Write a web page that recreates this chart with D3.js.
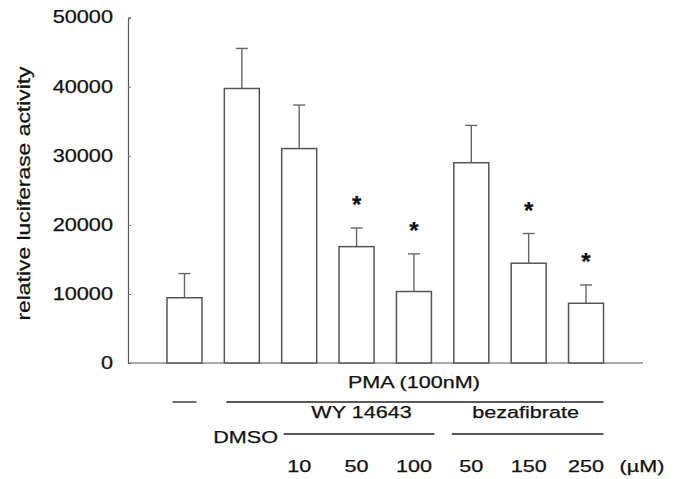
<!DOCTYPE html>
<html>
<head>
<meta charset="utf-8">
<script src="https://cdn.jsdelivr.net/npm/d3@7"></script>
<style>
  body { margin: 0; background: #fff; }
  text { font-family: "Liberation Sans", Arial, sans-serif; fill: #111; stroke: #111; stroke-width: 0.25px; }
</style>
</head>
<body>
<div id="chart"></div>
<script>
// data
var groups = ["ctrl", "DMSO", "WY10", "WY50", "WY100", "BZ50", "BZ150", "BZ250"];
var means  = [9450, 39750, 31050, 16850, 10350, 29000, 14450, 8650];
var errs   = [3500, 5800, 6300, 2700, 5450, 5400, 4300, 2650];
var stars  = [false, false, false, true, true, false, true, true];
var doseLabels = ["", "", "10", "50", "100", "50", "150", "250"];
var yTicks = [0, 10000, 20000, 30000, 40000, 50000];

var width = 676, height = 479;
var margin = {top: 17.7, left: 128, bottom: 116};

// the original lettering is wider than Liberation Sans, so stretch it a bit
function stretch(sel, k) {
  sel.each(function() {
    var w = this.getComputedTextLength();
    d3.select(this)
      .attr("textLength", w * k)
      .attr("lengthAdjust", "spacingAndGlyphs");
  });
}

var svg = d3.select("#chart")
  .append("svg")
    .attr("width", width)
    .attr("height", height);

var y = d3.scaleLinear()
  .domain([0, 50000])
  .range([363, margin.top]);

var x = d3.scaleBand()
  .domain(groups)
  .range([155.5, 615])
  .paddingInner(0.39)
  .paddingOuter(0.2);

// y axis
var yAxis = svg.append("g")
  .attr("transform", "translate(" + margin.left + ",0)")
  .call(d3.axisLeft(y).tickValues(yTicks).tickSize(-3).tickPadding(15).tickFormat(d3.format("d")));
yAxis.select(".domain").attr("stroke", "#555").attr("stroke-width", 1.2);
yAxis.selectAll(".tick line").attr("stroke", "#777");
yAxis.selectAll(".tick text")
  .style("font-size", "17.5px")
  .attr("dy", "0.3em")
  .call(stretch, 1.24);

// x baseline
svg.append("line")
  .attr("x1", margin.left).attr("x2", 643)
  .attr("y1", y(0)).attr("y2", y(0))
  .attr("stroke", "#555").attr("stroke-width", 1.2);

svg.append("text")
  .attr("transform", "translate(24,193.5) rotate(-90)")
  .attr("text-anchor", "middle")
  .attr("dy", "0.35em")
  .style("font-size", "18px")
  .text("relative luciferase activity")
  .call(stretch, 1.27);

var data = groups.map(function(g, i) {
  return {g: g, m: means[i], e: errs[i], star: stars[i], dose: doseLabels[i]};
});

// error bars
var eb = svg.append("g").attr("stroke", "#666").attr("stroke-width", 1.4);
eb.selectAll(".stem").data(data).enter().append("line")
  .attr("x1", function(d) { return x(d.g) + x.bandwidth() / 2; })
  .attr("x2", function(d) { return x(d.g) + x.bandwidth() / 2; })
  .attr("y1", function(d) { return y(d.m); })
  .attr("y2", function(d) { return y(d.m + d.e); });
eb.selectAll(".cap").data(data).enter().append("line")
  .attr("x1", function(d) { return x(d.g) + x.bandwidth() / 2 - 6; })
  .attr("x2", function(d) { return x(d.g) + x.bandwidth() / 2 + 6; })
  .attr("y1", function(d) { return y(d.m + d.e); })
  .attr("y2", function(d) { return y(d.m + d.e); });

// bars
svg.append("g").selectAll("rect")
  .data(data)
  .enter()
  .append("rect")
    .attr("x", function(d) { return x(d.g); })
    .attr("y", function(d) { return y(d.m); })
    .attr("width", x.bandwidth())
    .attr("height", function(d) { return y(0) - y(d.m); })
    .attr("fill", "#fff")
    .attr("stroke", "#555")
    .attr("stroke-width", 1.5);

// significance stars
svg.append("g").selectAll("text")
  .data(data.filter(function(d) { return d.star; }))
  .enter()
  .append("text")
    .attr("x", function(d) { return x(d.g) + x.bandwidth() / 2; })
    .attr("y", function(d) { return y(d.m + d.e) - 15; })
    .attr("text-anchor", "middle")
    .style("font-size", "24px")
    .style("font-weight", "bold")
    .text("*");

// treatment annotations below the axis
var cx = function(g) { return x(g) + x.bandwidth() / 2; };
var lab = svg.append("g").style("font-size", "17px");
var ln = svg.append("g").attr("stroke", "#222").attr("stroke-width", 1.3);

lab.append("text").attr("x", (cx("DMSO") + cx("BZ250")) / 2).attr("y", 388)
  .attr("text-anchor", "middle").text("PMA (100nM)");
ln.append("line").attr("x1", cx("ctrl") - 12).attr("x2", cx("ctrl") + 12)
  .attr("y1", 402).attr("y2", 402);
ln.append("line").attr("x1", x("DMSO") + 2).attr("x2", x("BZ250") + x.bandwidth())
  .attr("y1", 402).attr("y2", 402);

lab.append("text").attr("x", cx("WY50") + 5).attr("y", 418)
  .attr("text-anchor", "middle").text("WY 14643");
lab.append("text").attr("x", cx("BZ150") - 3).attr("y", 418)
  .attr("text-anchor", "middle").text("bezafibrate");
ln.append("line").attr("x1", x("WY10") + 2).attr("x2", x("WY100") + x.bandwidth() + 3)
  .attr("y1", 434).attr("y2", 434);
ln.append("line").attr("x1", x("BZ50") - 2).attr("x2", x("BZ250") + x.bandwidth())
  .attr("y1", 434).attr("y2", 434);

lab.append("text").attr("x", 278).attr("y", 443)
  .attr("text-anchor", "end").text("DMSO");

lab.selectAll(".dose").data(data.filter(function(d) { return d.dose; }))
  .enter().append("text")
    .attr("x", function(d) { return cx(d.g); })
    .attr("y", 472)
    .attr("text-anchor", "middle")
    .text(function(d) { return d.dose; });
lab.append("text").attr("x", 642).attr("y", 472)
  .attr("text-anchor", "middle").text("(\u00b5M)");

lab.selectAll("text").call(stretch, 1.27);
</script>
</body>
</html>
